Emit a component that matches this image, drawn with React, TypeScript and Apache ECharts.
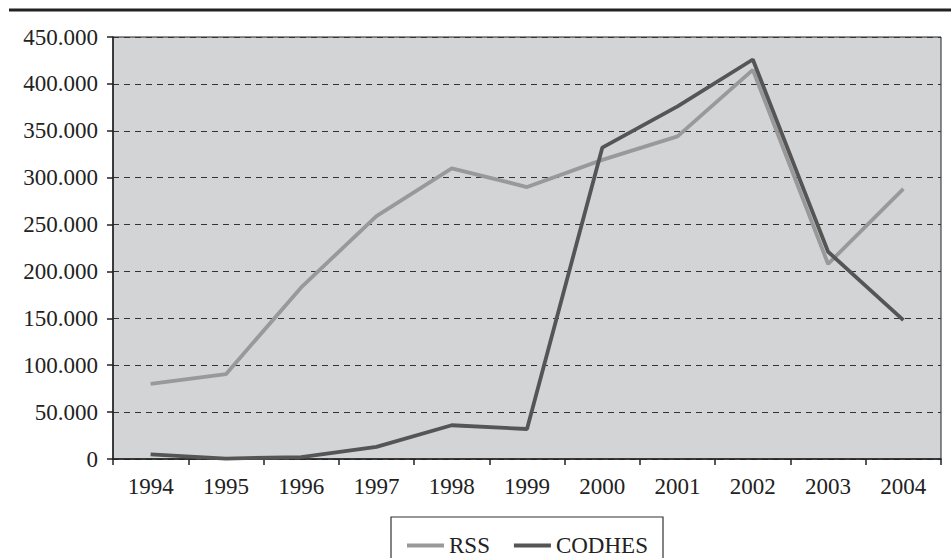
import React, { useEffect, useRef } from "react";
import * as echarts from "echarts";

const years = ["1994", "1995", "1996", "1997", "1998", "1999", "2000", "2001", "2002", "2003", "2004"];
const rss = [80000, 90500, 183000, 259000, 310000, 290000, 319000, 344000, 415000, 208000, 288000];
const codhes = [5000, 500, 2000, 13000, 36000, 32000, 332000, 376000, 426000, 221000, 148000];
const seriesNames = ["RSS", "CODHES"];

const FONT = "'Liberation Serif', 'Times New Roman', serif";

function fmt(v: number): string {
  if (v === 0) return "0";
  const s = Math.round(v).toString();
  return s.replace(/\B(?=(\d{3})+(?!\d))/g, ".");
}

export default function App() {
  const ref = useRef<HTMLDivElement>(null);
  useEffect(() => {
    if (!ref.current) return;
    const chart = echarts.init(ref.current, null, { renderer: "svg" });
    chart.setOption({
      animation: false,
      backgroundColor: "#ffffff",
      textStyle: { fontFamily: FONT },
      grid: {
        left: 113,
        right: 10,
        top: 37,
        bottom: 99,
        show: true,
        backgroundColor: "#d3d4d6",
        borderColor: "#222222",
        borderWidth: 1,
      },
      xAxis: {
        type: "category",
        data: years,
        boundaryGap: true,
        axisLine: { lineStyle: { color: "#222222", width: 1.5 } },
        axisTick: { show: true, inside: false, length: 6, lineStyle: { color: "#222222", width: 1.5 } },
        axisLabel: { color: "#222222", fontFamily: FONT, fontSize: 23, margin: 16 },
        splitLine: { show: false },
      },
      yAxis: {
        type: "value",
        min: 0,
        max: 450000,
        interval: 50000,
        axisLine: { show: true, lineStyle: { color: "#222222", width: 1.5 } },
        axisTick: { show: true, inside: false, length: 6, lineStyle: { color: "#222222", width: 1.5 } },
        axisLabel: { color: "#222222", fontFamily: FONT, fontSize: 23, margin: 15, formatter: (v: number) => fmt(v) },
        splitLine: { show: true, lineStyle: { color: "#333333", type: [6, 5], width: 1.2 } },
      },
      legend: {
        data: seriesNames,
        left: 402,
        top: 529,
        icon: "rect",
        itemWidth: 37,
        itemHeight: 4,
        itemGap: 24,
        textStyle: { color: "#222222", fontFamily: FONT, fontSize: 23, padding: [0, 0, 0, 0] },
      },
      graphic: [
        {
          type: "line",
          shape: { x1: 9, y1: 10, x2: 951, y2: 10 },
          style: { stroke: "#222222", lineWidth: 3 },
        },
        {
          type: "rect",
          shape: { x: 391, y: 517, width: 272, height: 60 },
          style: { fill: "none", stroke: "#333333", lineWidth: 1.2 },
        },
      ],
      series: [
        {
          name: seriesNames[0],
          type: "line",
          data: rss,
          symbol: "none",
          lineStyle: { color: "#999999", width: 3.8 },
          itemStyle: { color: "#999999" },
        },
        {
          name: seriesNames[1],
          type: "line",
          data: codhes,
          symbol: "none",
          lineStyle: { color: "#555555", width: 3.8 },
          itemStyle: { color: "#555555" },
        },
      ],
    });
    return () => chart.dispose();
  }, []);
  return <div ref={ref} style={{ width: 951, height: 558, position: "absolute", left: 0, top: 0 }} />;
}
